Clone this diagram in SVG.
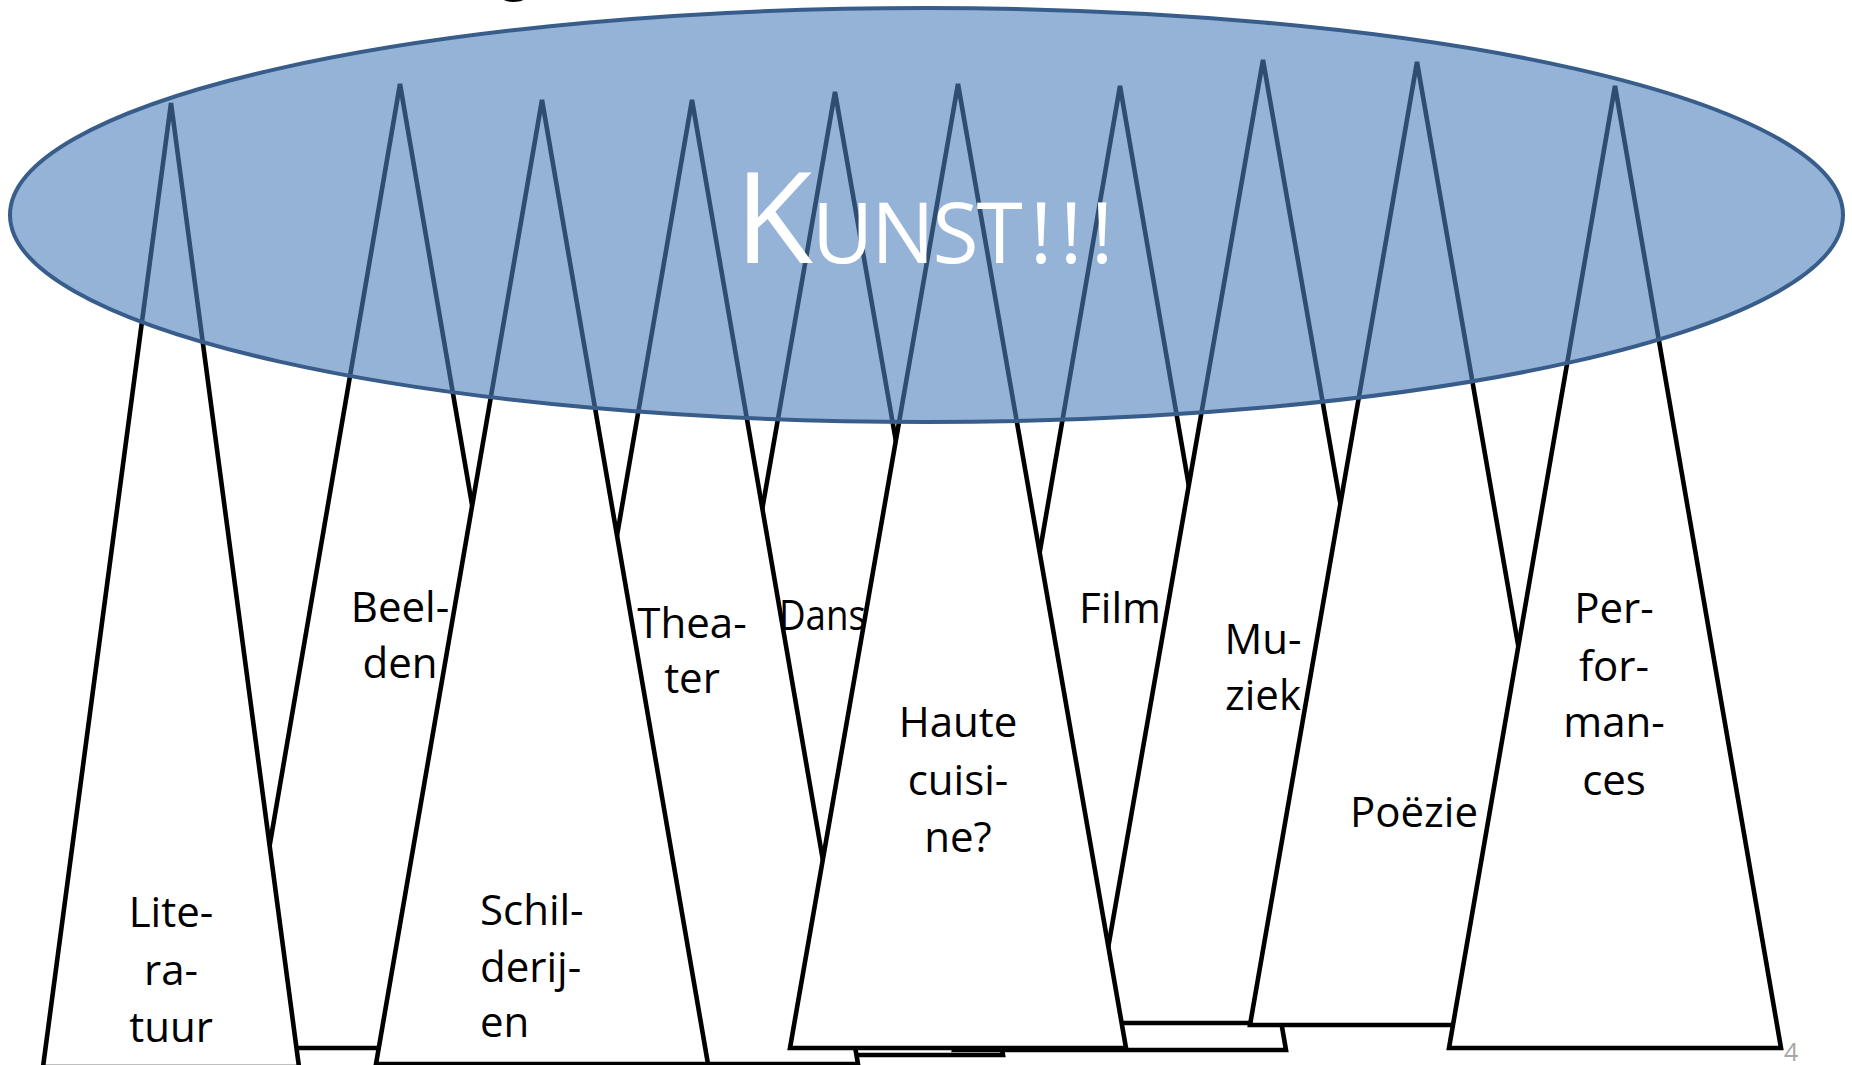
<svg xmlns="http://www.w3.org/2000/svg" width="1852" height="1065" viewBox="0 0 1852 1065">
<style>
.tri{fill:#ffffff;stroke:#000000;stroke-width:4.6;stroke-miterlimit:4}
.lbl{font-family:"Open Sans","Liberation Sans",sans-serif;font-size:42px;fill:#000000}
.mid{text-anchor:middle}
.big{font-family:"Open Sans","Liberation Sans",sans-serif;fill:#ffffff}
.num{font-family:"Open Sans","Liberation Sans",sans-serif;font-size:25px;fill:#a6a6a6}
</style>
<rect x="0" y="0" width="1852" height="1065" fill="#ffffff"/>
<text font-family="'Open Sans','Liberation Sans',sans-serif" font-size="60" fill="#000000" text-anchor="middle" x="515" y="-12">g</text>
<g id="connectors"/>
<g id="beelden">
<polygon class="tri" points="400,84 235,1048 565,1048"/>
<text class="lbl mid" x="400" y="622">Beel-</text>
<text class="lbl mid" x="400" y="678">den</text>
</g>
<g id="dans">
<polygon class="tri" points="835,92 667,1055 1003,1055"/>
<text class="lbl" x="779" y="630" textLength="87" lengthAdjust="spacingAndGlyphs">Dans</text>
</g>
<g id="theater">
<polygon class="tri" points="692,100 526,1064 858,1064"/>
<text class="lbl mid" x="692" y="638">Thea-</text>
<text class="lbl mid" x="692" y="693">ter</text>
</g>
<g id="literatuur">
<polygon class="tri" points="171,103 43,1067 299,1067"/>
<text class="lbl mid" x="171" y="927">Lite-</text>
<text class="lbl mid" x="171" y="985">ra-</text>
<text class="lbl mid" x="171" y="1042">tuur</text>
</g>
<g id="schilderijen">
<polygon class="tri" points="542,100 376,1064 708,1064"/>
<text class="lbl" x="480" y="925">Schil-</text>
<text class="lbl" x="480" y="982">derij-</text>
<text class="lbl" x="480" y="1037">en</text>
</g>
<g id="film">
<polygon class="tri" points="1120,86 954,1050 1286,1050"/>
<text class="lbl mid" x="1120" y="623">Film</text>
</g>
<g id="muziek">
<polygon class="tri" points="1263,60 1095,1023 1431,1023"/>
<text class="lbl mid" x="1263" y="654">Mu-</text>
<text class="lbl mid" x="1263" y="710">ziek</text>
</g>
<g id="haute-cuisine">
<polygon class="tri" points="958,84 790,1048 1126,1048"/>
<text class="lbl mid" x="958" y="737">Haute</text>
<text class="lbl mid" x="958" y="795">cuisi-</text>
<text class="lbl mid" x="958" y="852">ne?</text>
</g>
<g id="poezie">
<polygon class="tri" points="1417,62 1250,1025 1584,1025"/>
<text class="lbl mid" x="1414" y="827">Poëzie</text>
</g>
<g id="performances">
<polygon class="tri" points="1615,86 1449,1048 1781,1048"/>
<text class="lbl mid" x="1614" y="623">Per-</text>
<text class="lbl mid" x="1614" y="681">for-</text>
<text class="lbl mid" x="1614" y="737">man-</text>
<text class="lbl mid" x="1614" y="795">ces</text>
</g>
<g id="kunst">
<ellipse cx="926.5" cy="215" rx="916.5" ry="207" fill="#4F81BD" fill-opacity="0.6" stroke="#385D8A" stroke-width="4"/>
<text class="big" y="263"><tspan x="735" font-size="127">K</tspan><tspan x="812" font-size="84" letter-spacing="-2">UNST</tspan><tspan x="1030" font-size="84">!</tspan><tspan x="1060" font-size="84">!</tspan><tspan x="1091" font-size="84">!</tspan></text>
</g>
<text class="num" x="1784" y="1061">4</text>
</svg>
